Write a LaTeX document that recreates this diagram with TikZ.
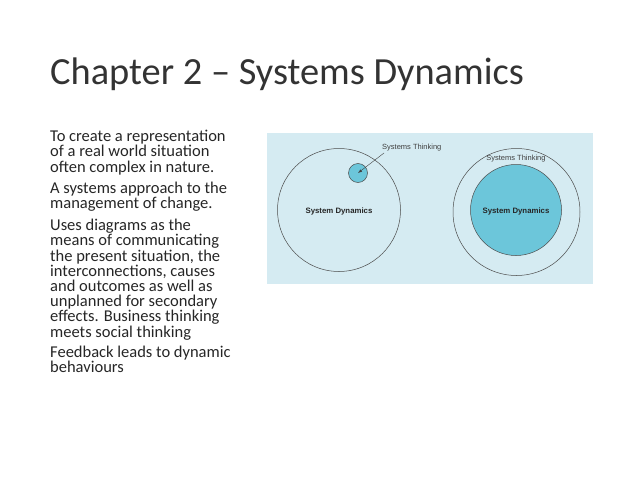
\documentclass[tikz,border=0pt]{standalone}
\usepackage{fontspec}
\setmainfont{Carlito}
\newfontfamily\diag{Liberation Sans}
\definecolor{bgblue}{HTML}{D5EBF2}
\definecolor{cyanfill}{HTML}{6CC6DA}
\definecolor{txt}{HTML}{262626}
\begin{document}
\begin{tikzpicture}[x=1pt,y=-1pt,
  ring/.style={draw=black!70,line width=0.5pt},
  dlabel/.style={font=\diag\fontsize{7.8}{9}\selectfont\bfseries, text=black!85},
  tlabel/.style={font=\diag\fontsize{7.5}{9}\selectfont, text=black!75},
  bodytext/.style={anchor=north west, align=left, font=\fontsize{16.5}{15.2}\selectfont, text=txt, inner sep=0pt}]
\useasboundingbox (0,0) rectangle (638,479);
\node[anchor=base west, inner sep=0pt, font=\fontsize{38.4}{44}\selectfont, text=black!80] (title) at (50,84) {Chapter 2 – Systems Dynamics};
\node[bodytext] (b1) at (50,130) {To create a representation\\of a real world situation\\often complex in nature.};
\node[bodytext] (b2) at (50,182) {A systems approach to the\\management of change.};
\node[bodytext] (b3) at (50,219) {Uses diagrams as the\\means of communicating\\the present situation, the\\interconnections, causes\\and outcomes as well as\\unplanned for secondary\\effects. Business thinking\\meets social thinking};
\node[bodytext] (b4) at (50,346) {Feedback leads to dynamic\\behaviours};
\fill[bgblue] (267,133) rectangle (593,284);
\node[ring, circle, minimum size=123pt, inner sep=0pt] (lc) at (339,210) {};
\node[ring, circle, fill=cyanfill, minimum size=19pt, inner sep=0pt] (sc) at (358,173) {};
\node[dlabel] (ld) at (339,211) {System Dynamics};
\node[tlabel, anchor=south west, inner sep=1pt] (lt) at (381,152) {Systems Thinking};
\draw[black!75, -latex] (lt.south west) ++(3,1) coordinate (as) (as) -- (sc.center);
\node[ring, circle, minimum size=127pt, inner sep=0pt] (rc) at (516.5,212) {};
\node[ring, circle, fill=cyanfill, minimum size=91pt, inner sep=0pt] (ic) at (516,210) {};
\node[dlabel] (rd) at (516,211) {System Dynamics};
\node[tlabel] (rt) at (516,159) {Systems Thinking};
\end{tikzpicture}
\end{document}
